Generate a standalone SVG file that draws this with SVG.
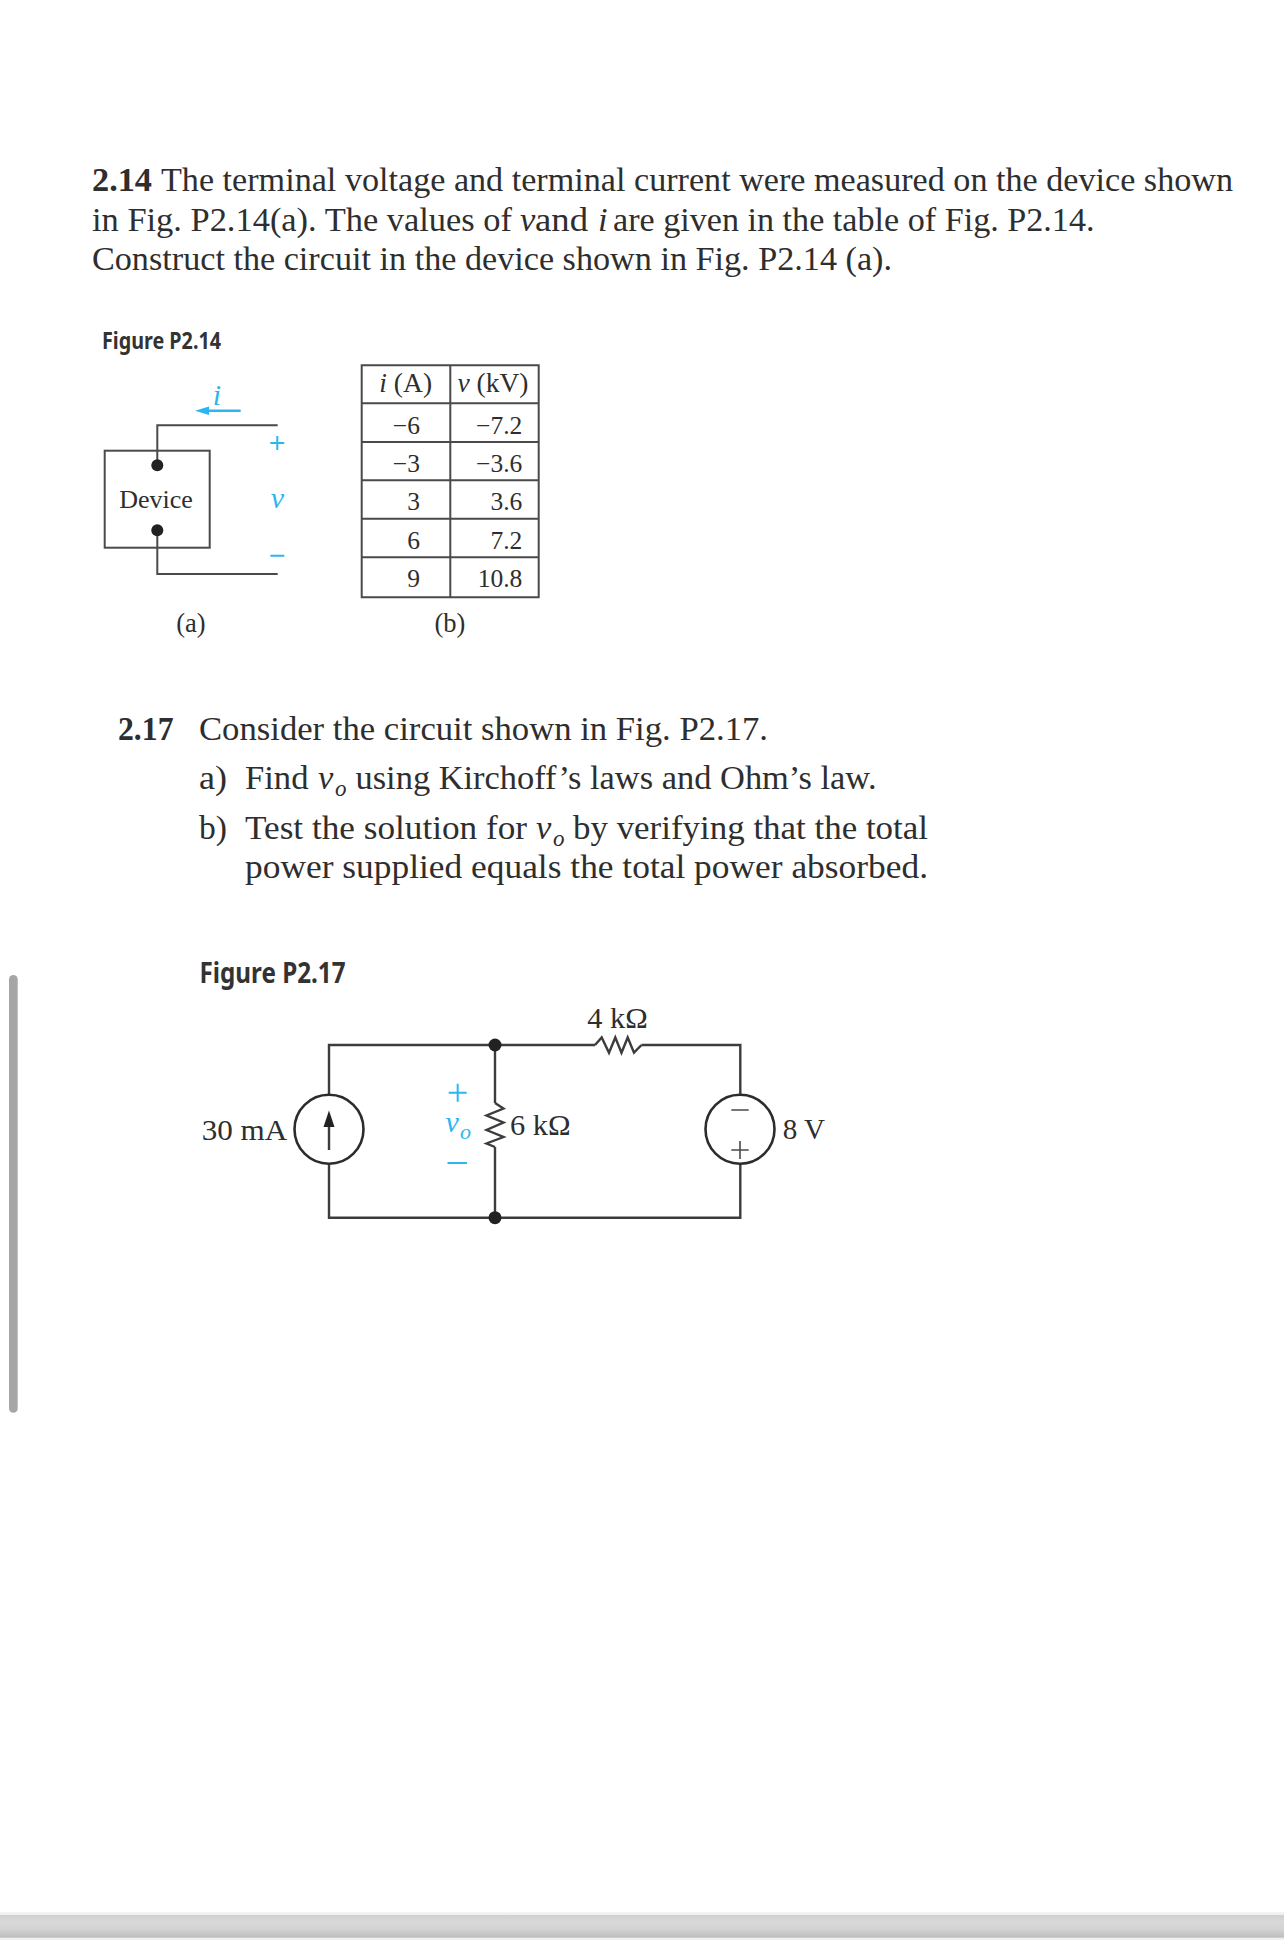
<svg xmlns="http://www.w3.org/2000/svg" width="1284" height="1941" viewBox="0 0 1284 1941">
<style>
text{font-family:"Liberation Serif","Times New Roman",serif;fill:#2e2e2e}
.body{font-size:34.5px}
.b{font-weight:bold}
.i{font-style:italic}
.head{font-family:"Noto Sans","Liberation Sans",sans-serif;font-weight:bold;font-size:23.5px;fill:#333}
.lab{font-size:26.5px}
.num{font-size:25.5px}
.big{font-size:30px}
.sub{font-size:23px}
.mid{text-anchor:middle}
.end{text-anchor:end}
.blue{fill:#2cb5ef}
.wire{fill:none;stroke:#4a4a4a;stroke-width:2;stroke-linejoin:miter}
.wire2{fill:none;stroke:#3c3c3c;stroke-width:2.4}
.bl{fill:none;stroke:#2cb5ef;stroke-width:2}
.dot{fill:#222}
.src{fill:#fff;stroke:#2c2c2c;stroke-width:2.6}
</style>
<defs>
<linearGradient id="barGrad" x1="0" y1="0" x2="0" y2="1">
<stop offset="0" stop-color="#cfcfcf"/>
<stop offset="0.3" stop-color="#d9d9d9"/>
<stop offset="0.6" stop-color="#d4d4d4"/>
<stop offset="1" stop-color="#bdbdbd"/>
</linearGradient>
</defs>
<rect width="1284" height="1941" fill="#fff"/>

<g id="problem-2-14">
<text class="body b" x="92" y="191" textLength="60" lengthAdjust="spacingAndGlyphs">2.14</text>
<text class="body" x="161" y="191" textLength="1072" lengthAdjust="spacingAndGlyphs">The terminal voltage and terminal current were measured on the device shown</text>
<text class="body" x="92" y="231" textLength="420" lengthAdjust="spacingAndGlyphs">in Fig. P2.14(a). The values of</text>
<text class="body i" x="520" y="231">v</text>
<text class="body" x="535" y="231" textLength="53" lengthAdjust="spacingAndGlyphs">and</text>
<text class="body i" x="598" y="231">i</text>
<text class="body" x="613" y="231" textLength="481.5" lengthAdjust="spacingAndGlyphs">are given in the table of Fig. P2.14.</text>
<text class="body" x="92" y="270" textLength="800" lengthAdjust="spacingAndGlyphs">Construct the circuit in the device shown in Fig. P2.14 (a).</text>
</g>

<text id="figure-p2-14-title" class="head" x="102" y="349" textLength="119" lengthAdjust="spacingAndGlyphs">Figure P2.14</text>

<g id="connectors-p2-14">
<path class="wire" d="M277.7 425.3H157.3V465.3"/>
<path class="wire" d="M277.7 574H157.3V530.3"/>
</g>
<g id="device">
<rect class="wire" x="104.7" y="450.7" width="105" height="97"/>
<circle class="dot" cx="157.3" cy="465.3" r="6"/>
<circle class="dot" cx="157.3" cy="530.3" r="6"/>
<text class="lab mid" x="156" y="507.5" style="font-size:26px">Device</text>
</g>
<g id="current-i">
<path class="bl" d="M240.7 410.7H205" style="stroke-width:2.4"/>
<path d="M195 410.7L209 406.5V414.9Z" fill="#2cb5ef"/>
<text class="big i mid blue" x="217" y="405">i</text>
</g>
<g id="voltage-v">
<path class="bl" d="M270.3 443H284.3M277.3 436V450M270.3 555.7H284.3"/>
<text class="big i mid blue" x="277.5" y="508">v</text>
</g>
<text id="label-a" class="lab mid" x="191" y="632">(a)</text>

<g id="table-b">
<path class="wire" d="M361.7 365.3H538.7V597.3H361.7ZM450.3 365.3V597.3M361.7 403.3H538.7M361.7 442H538.7M361.7 480.3H538.7M361.7 518.7H538.7M361.7 557.3H538.7"/>
<text class="lab mid" x="405.7" y="391.5" style="font-size:27.5px"><tspan class="i">i</tspan> (A)</text>
<text class="lab mid" x="493" y="391.5" style="font-size:27.5px"><tspan class="i">v</tspan> (kV)</text>
<text class="num end" x="420" y="433.5">−6</text>
<text class="num end" x="522.3" y="433.5">−7.2</text>
<text class="num end" x="420" y="472">−3</text>
<text class="num end" x="522.3" y="472">−3.6</text>
<text class="num end" x="420" y="510">3</text>
<text class="num end" x="522.3" y="510">3.6</text>
<text class="num end" x="420" y="548.5">6</text>
<text class="num end" x="522.3" y="548.5">7.2</text>
<text class="num end" x="420" y="587">9</text>
<text class="num end" x="522.3" y="587">10.8</text>
</g>
<text id="label-b" class="lab mid" x="450" y="632">(b)</text>

<g id="problem-2-17">
<text class="body b" x="118" y="740" textLength="55.5" lengthAdjust="spacingAndGlyphs">2.17</text>
<text class="body" x="199" y="740" textLength="569" lengthAdjust="spacingAndGlyphs">Consider the circuit shown in Fig. P2.17.</text>
<text class="body" x="199" y="789" textLength="28" lengthAdjust="spacingAndGlyphs">a)</text>
<text class="body" x="245" y="789" textLength="63.5" lengthAdjust="spacingAndGlyphs">Find</text>
<text class="body i" x="318" y="789">v</text>
<text class="i sub" x="335" y="796">o</text>
<text class="body" x="355.5" y="789" textLength="521" lengthAdjust="spacingAndGlyphs">using Kirchoff’s laws and Ohm’s law.</text>
<text class="body" x="199" y="838.5" textLength="28" lengthAdjust="spacingAndGlyphs">b)</text>
<text class="body" x="245" y="838.5" textLength="282" lengthAdjust="spacingAndGlyphs">Test the solution for</text>
<text class="body i" x="536" y="838.5">v</text>
<text class="i sub" x="553" y="845.5">o</text>
<text class="body" x="573" y="838.5" textLength="355" lengthAdjust="spacingAndGlyphs">by verifying that the total</text>
<text class="body" x="245" y="878" textLength="683" lengthAdjust="spacingAndGlyphs">power supplied equals the total power absorbed.</text>
</g>

<text id="figure-p2-17-title" class="head" x="199.5" y="983" textLength="146" lengthAdjust="spacingAndGlyphs" style="font-size:28px">Figure P2.17</text>

<g id="connectors-p2-17">
<path class="wire2" d="M329 1094.8V1045H595M641.5 1045H740.3V1094.8"/>
<path class="wire2" d="M329 1163.8V1217.7H740.3V1163.8"/>
<path class="wire2" d="M495 1045V1103M495 1147V1217.7"/>
</g>
<g id="source-30ma">
<circle class="src" cx="329" cy="1129.3" r="34.5"/>
<path class="wire2" d="M329 1126V1150"/>
<path d="M329 1110.5L334.5 1127H323.5Z" fill="#222"/>
<text class="big" x="201.7" y="1140" textLength="85.6" lengthAdjust="spacingAndGlyphs">30 mA</text>
</g>
<g id="node-top"><circle class="dot" cx="495" cy="1045" r="6.5"/></g>
<g id="node-bottom"><circle class="dot" cx="495" cy="1217.7" r="6.5"/></g>
<g id="resistor-6k">
<path class="wire2" d="M495 1103L503.5 1108.5L486.5 1115.5L503.5 1122.5L486.5 1130L503.5 1137L486.5 1143.5L495 1147"/>
<text class="big" x="510" y="1134.5" textLength="60.7" lengthAdjust="spacingAndGlyphs">6 kΩ</text>
</g>
<g id="resistor-4k">
<path class="wire2" d="M595 1045L601.7 1037.5L609 1052.7L615.3 1037.5L621.5 1052.7L627.7 1037.5L634 1052.7L641.5 1045"/>
<text class="big" x="587.3" y="1028" textLength="60.4" lengthAdjust="spacingAndGlyphs">4 kΩ</text>
</g>
<g id="voltage-vo">
<path class="bl" d="M448.7 1092.7H466.7M457.7 1083.7V1101.7M447.5 1163H467"/>
<text class="big i blue" x="445.5" y="1131.5">v</text>
<text class="i blue" style="font-size:22px" x="460" y="1138.5">o</text>
</g>
<g id="source-8v">
<circle class="src" cx="740" cy="1129.3" r="34.5"/>
<path d="M731.3 1110H748.7M731.3 1150H748.7M740 1141V1159" fill="none" stroke="#4a4a4a" stroke-width="1.6"/>
<text class="big" x="782.7" y="1139" textLength="42.3" lengthAdjust="spacingAndGlyphs">8 V</text>
</g>

<rect id="scrollbar" x="9" y="975" width="8.7" height="437.7" rx="4.3" fill="#a6a6a6"/>
<g id="bottom-bar">
<rect x="0" y="1912.3" width="1284" height="27.7" fill="#f0f0f0"/>
<rect x="0" y="1915" width="1284" height="22.7" fill="url(#barGrad)"/>
</g>
</svg>
